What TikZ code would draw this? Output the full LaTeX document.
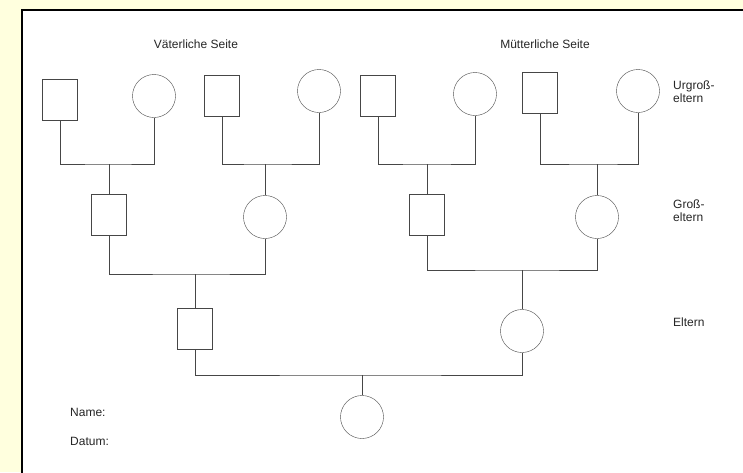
\documentclass[tikz,border=0pt]{standalone}
\usepackage{fontspec}
\setmainfont{Liberation Sans}
\usepackage{tikz}

\definecolor{hintergrund}{RGB}{255,255,222}
\definecolor{linie}{RGB}{70,70,70}

\tikzset{
    mann/.style={draw=linie, rectangle, minimum width=35pt, minimum height=41pt, inner sep=0pt},
    frau/.style={draw=linie, circle, minimum size=43pt, inner sep=0pt},
    beschriftung/.style={font=\fontsize{12}{13}\selectfont, text=black!85, inner sep=0pt},
    linien/.style={draw=linie, line width=0.8pt}
}

\begin{document}
\begin{tikzpicture}[x=1pt, y=-1pt]
    \useasboundingbox (0,0) rectangle (743,472);
    \clip (0,0) rectangle (743,472);
    \fill[hintergrund] (0,0) rectangle (743,472);
    \draw[line width=2pt, fill=white] (22,10) rectangle (760,490);

    % Urgrosseltern
    \node[mann] (ug1) at (60,100) {};
    \node[frau] (ug2) at (154,96) {};
    \node[mann] (ug3) at (222,96) {};
    \node[frau] (ug4) at (319,91) {};
    \node[mann] (ug5) at (378,96) {};
    \node[frau] (ug6) at (475,94) {};
    \node[mann] (ug7) at (540,93) {};
    \node[frau] (ug8) at (638,91) {};

    % Grosseltern
    \node[mann] (g1) at (109,215) {};
    \node[frau] (g2) at (265,217) {};
    \node[mann] (g3) at (427,215) {};
    \node[frau] (g4) at (597,217) {};

    % Eltern
    \node[mann] (e1) at (195,329) {};
    \node[frau] (e2) at (522,331) {};

    % Kind
    \node[frau] (kind) at (362,417) {};

    \coordinate (j1) at (109,164);
    \coordinate (j2) at (265,164);
    \coordinate (j3) at (427,164);
    \coordinate (j4) at (597,164);
    \coordinate (j5) at (195,274);
    \coordinate (j6) at (522,270);
    \coordinate (j7) at (362,375);

    \draw[linien] (ug1.south) |- (j1) -| (ug2.south);
    \draw[linien] (ug3.south) |- (j2) -| (ug4.south);
    \draw[linien] (ug5.south) |- (j3) -| (ug6.south);
    \draw[linien] (ug7.south) |- (j4) -| (ug8.south);
    \draw[linien] (j1) -- (g1.north);
    \draw[linien] (j2) -- (g2.north);
    \draw[linien] (j3) -- (g3.north);
    \draw[linien] (j4) -- (g4.north);

    \draw[linien] (g1.south) |- (j5) -| (g2.south);
    \draw[linien] (g3.south) |- (j6) -| (g4.south);
    \draw[linien] (j5) -- (e1.north);
    \draw[linien] (j6) -- (e2.north);

    \draw[linien] (e1.south) |- (j7) -| (e2.south);
    \draw[linien] (j7) -- (kind.north);

    % Texte
    \node[beschriftung] (vater) at (196,44) {Väterliche Seite};
    \node[beschriftung] (mutter) at (545,44) {Mütterliche Seite};
    \node[beschriftung, anchor=west, align=left] (urgross) at (673,92) {Urgroß-\\eltern};
    \node[beschriftung, anchor=west, align=left] (gross) at (673,211) {Groß-\\eltern};
    \node[beschriftung, anchor=west] (eltern) at (673,322) {Eltern};
    \node[beschriftung, anchor=west] (name) at (70,412) {Name:};
    \node[beschriftung, anchor=west] (datum) at (70,441) {Datum:};
\end{tikzpicture}
\end{document}
